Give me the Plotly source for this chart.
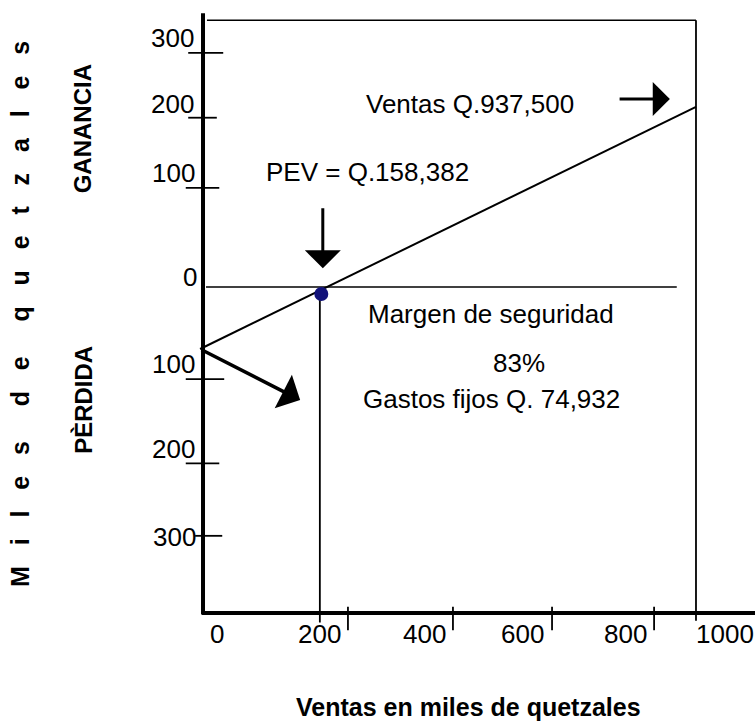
import plotly.graph_objects as go

# ---------------- values (thousands of quetzales) ----------------
sales_text = "Ventas Q.937,500"
pev_text = "PEV = Q.158,382"
margin_text = "Margen de seguridad"
margin_pct_text = "83%"
fixed_text = "Gastos fijos Q. 74,932"
x_title = "Ventas en miles de quetzales"
y_title = "Miles de quetzales"
gain_text = "GANANCIA"
loss_text = "PÈRDIDA"

# x tick labels and where they sit in the drawing
x_tick_labels = ["0", "200", "400", "600", "800", "1000"]
x_tick_label_x = [28, 236, 449, 648, 856, 1059]
x_tick_label_y = -445
x_tick_marks = [294, 507, 708, 915]
x_tick_mark_top = -410
x_tick_mark_bottom = -440

# y tick labels (upper = ganancia, lower = pérdida)
y_tick_labels = ["300", "200", "100", "0", "100", "200", "300"]
y_tick_label_y = [319, 235, 146, 13, -99, -208, -321]
y_tick_label_x = [-61, -61, -60, -26, -59, -59, -58]
y_tick_marks = [300, 217, 127, -118, -226, -319]
y_tick_left = [-30, -30, -35, -35, -35, -16]
y_tick_right = [41, 28, 33, 43, 33, 39]

# frame of the drawing
axis_left_x = [0, 0]
axis_left_y = [351, -420]
axis_bottom_x = [-2, 1125]
axis_bottom_y = [-418, -418]
top_line_x = [8, 1000]
top_line_y = [342, 342]
right_line_x = [1000, 1000]
right_line_y = [342, -428]
zero_line_x = [6, 961]
zero_line_y = [0, 0]

# ventas / resultado line and break-even point
profit_x = [-6, 1000]
profit_y = [-79.5, 231]
pev_x = [240]
pev_y = [-9]
pev_drop_x = [237, 237]
pev_drop_y = [-9, -430]

# arrows: (tail x, tail y, tip x, tip y)
arrow_pev = (243, 103, 243, 24)
arrow_fixed = (-6, -79.5, 197, -145)
arrow_sales = (842, 241, 947, 241)

# ---------------- figure ----------------
FONT = "Arial, Liberation Sans, sans-serif"
BLACK = "#000000"

fig = go.Figure()


def seg(xs, ys, width):
    fig.add_trace(go.Scatter(x=xs, y=ys, mode="lines",
                             line=dict(color=BLACK, width=width),
                             hoverinfo="skip", showlegend=False))


seg(axis_left_x, axis_left_y, 4)
seg(axis_bottom_x, axis_bottom_y, 4)
seg(top_line_x, top_line_y, 1.6)
seg(right_line_x, right_line_y, 1.8)
seg(zero_line_x, zero_line_y, 1.6)
seg(profit_x, profit_y, 2)
seg(pev_drop_x, pev_drop_y, 1.8)

for yv, xl, xr in zip(y_tick_marks, y_tick_left, y_tick_right):
    seg([xl, xr], [yv, yv], 1.8)
for xv in x_tick_marks:
    seg([xv, xv], [x_tick_mark_top, x_tick_mark_bottom], 1.8)

fig.add_trace(go.Scatter(x=pev_x, y=pev_y, mode="markers",
                         marker=dict(size=14, color="#12127a"),
                         hoverinfo="skip", showlegend=False))

annotations = []


def txt(text, x, y, size=26, bold=False, xanchor="center", textangle=0, xref="x", yref="y"):
    annotations.append(dict(
        text=("<b>%s</b>" % text) if bold else text,
        x=x, y=y, xref=xref, yref=yref, xanchor=xanchor, yanchor="middle",
        showarrow=False, textangle=textangle,
        font=dict(family=FONT, size=size, color=BLACK)))


for lab, xv in zip(x_tick_labels, x_tick_label_x):
    txt(lab, xv, x_tick_label_y)
for lab, xv, yv in zip(y_tick_labels, y_tick_label_x, y_tick_label_y):
    txt(lab, xv, yv)

txt(sales_text, 542, 235)
txt(pev_text, 333, 147)
txt(margin_text, 584, -34)
txt(margin_pct_text, 640, -97)
txt(fixed_text, 586, -144)

txt(x_title, 0.62, 0.025, size=25, bold=True, xref="paper", yref="paper")
txt(gain_text, -244, 203, size=24, bold=True, textangle=-90)
txt(loss_text, -244, -145, size=24, bold=True, textangle=-90)

spaced = ("\u00a0" * 5).join(("\u00a0" * 3).join(word) for word in y_title.split(" "))
txt(spaced, -370, -35, size=25, bold=True, textangle=-90)


def arrow(a, width, size):
    ax, ay, x, y = a
    annotations.append(dict(
        x=x, y=y, ax=ax, ay=ay, xref="x", yref="y", axref="x", ayref="y",
        text="", showarrow=True, arrowhead=1, arrowsize=size,
        arrowwidth=width, arrowcolor=BLACK))


arrow(arrow_pev, 3, 2)
arrow(arrow_fixed, 3.5, 1.8)
arrow(arrow_sales, 3, 1.9)

fig.update_layout(
    width=755, height=725,
    margin=dict(l=0, r=0, t=0, b=0),
    paper_bgcolor="white", plot_bgcolor="white",
    showlegend=False,
    xaxis=dict(visible=False, range=[-411.8, 1119.7], fixedrange=True),
    yaxis=dict(visible=False, range=[-561.5, 367.9], fixedrange=True),
    annotations=annotations,
)

fig.write_html(
    "out.html",
    config={"displayModeBar": False},
    post_script="document.body.style.margin='0';document.body.style.overflow='hidden';",
)
